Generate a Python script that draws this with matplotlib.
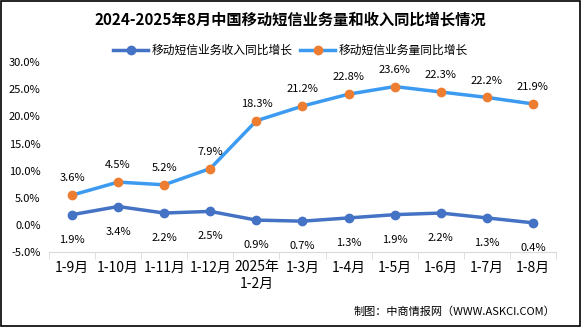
import numpy as np
import matplotlib.pyplot as plt
from matplotlib.patches import Rectangle

plt.rcParams['font.family'] = ['Noto Sans CJK SC', 'DejaVu Sans']

categories = ['1-9月', '1-10月', '1-11月', '1-12月', '2025年\n1-2月', '1-3月',
              '1-4月', '1-5月', '1-6月', '1-7月', '1-8月']
revenue = [1.9, 3.4, 2.2, 2.5, 0.9, 0.7, 1.3, 1.9, 2.2, 1.3, 0.4]
volume = [3.6, 4.5, 5.2, 7.9, 18.3, 21.2, 22.8, 23.6, 22.3, 22.2, 21.9]
yticks = [-5, 0, 5, 10, 15, 20, 25, 30]

# stacked line chart: the volume series sits on top of revenue
stacked = np.array(revenue) + np.array(volume)
x = np.arange(len(categories))

fig = plt.figure(figsize=(5.81, 3.27), dpi=100)
ax = fig.add_axes([0.0843, 0.229, 0.8727, 0.581])

ax.plot(x, revenue, color='#4472C4', lw=2.5, marker='o', ms=6,
        mfc='#4472C4', mec='#4472C4', label='移动短信业务收入同比增长')
ax.plot(x, stacked, color='#3C9BF0', lw=2.5, marker='o', ms=6,
        mfc='#ED7D31', mec='#ED7D31', label='移动短信业务量同比增长')

for i in x:
    ax.annotate(f'{revenue[i]:.1f}%', (i, revenue[i]), xytext=(0, -18),
                textcoords='offset points', ha='center', va='center', fontsize=8)
    ax.annotate(f'{volume[i]:.1f}%', (i, stacked[i]), xytext=(0, 12),
                textcoords='offset points', ha='center', va='center', fontsize=8)

ax.set_xlim(-0.5, len(categories) - 0.5)
ax.set_ylim(-5, 30)
ax.set_yticks(yticks)
ax.set_yticklabels([f'{v:.1f}%' for v in yticks], fontsize=8)
ax.set_xticks(x)
ax.set_xticklabels(categories, fontsize=8, linespacing=1.1)
ax.set_xticks(np.arange(-0.5, len(categories)), minor=True)
ax.tick_params(axis='x', which='major', length=0, pad=6)
ax.tick_params(axis='x', which='minor', length=5, color='#D9D9D9')
ax.tick_params(axis='y', length=0, pad=6)
for s in ['top', 'right', 'left']:
    ax.spines[s].set_visible(False)
ax.spines['bottom'].set_color('#D9D9D9')
ax.spines['bottom'].set_position(('data', -5))

fig.legend(loc='center', bbox_to_anchor=(0.5, 0.845), ncol=2, frameon=False,
           fontsize=8.5, handlelength=3, columnspacing=0.6, handletextpad=0.3)

fig.text(0.5, 0.94, '2024-2025年8月中国移动短信业务量和收入同比增长情况',
         ha='center', va='center', fontsize=11, fontweight='bold')
fig.text(0.955, 0.048, '制图：中商情报网（WWW.ASKCI.COM）',
         ha='right', va='center', fontsize=8)

fig.patches.append(Rectangle((0.001, 0.002), 0.997, 0.995, transform=fig.transFigure,
                             fill=False, edgecolor='black', lw=1.2))

fig.savefig('out.png', dpi=100)
